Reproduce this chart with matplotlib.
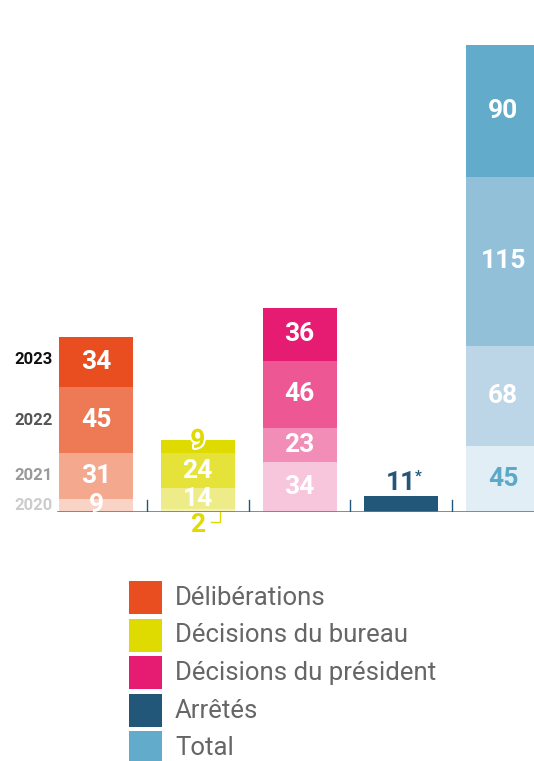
import matplotlib
matplotlib.use("Agg")
import matplotlib.pyplot as plt
from matplotlib.patches import Rectangle
import matplotlib.patheffects as pe

# data
categories = ["Délibérations", "Décisions du bureau", "Décisions du président", "Arrêtés", "Total"]
years = ["2020", "2021", "2022", "2023"]
deliberations = [9, 31, 45, 34]
bureau = [2, 14, 24, 9]
president = [34, 23, 46, 36]
arretes = [0, 0, 0, 11]
total = [45, 68, 115, 90]

series = [deliberations, bureau, president, arretes, total]

# colours per category, one shade per year (2020 -> 2023)
shades = [
    ["#f9d3c6", "#f4a98f", "#ee7a55", "#e84e1f"],
    ["#f3f2b8", "#eeec88", "#e5e33a", "#dfdb00"],
    ["#f7c6dc", "#f18db6", "#ec5794", "#e61c72"],
    ["#23577a", "#23577a", "#23577a", "#23577a"],
    ["#e2eef5", "#bcd5e7", "#91c0d8", "#62abcb"],
]
legend_colors = ["#e84e1f", "#dfdb00", "#e61c72", "#23577a", "#62abcb"]
year_colors = ["#cccccc", "#999999", "#555555", "#111111"]

W, H = 534, 761
fig = plt.figure(figsize=(W / 100, H / 100), dpi=100)
ax = fig.add_axes([0, (H - 512) / H, 1, 512 / H])

px_per_unit = 1.47
step = 101.75
ax.set_xlim(-96 / step, (W - 96) / step)
ax.set_ylim(0, 512 / px_per_unit)
ax.axis("off")

num_font = dict(family="Roboto", fontweight="bold", fontsize=19)
bw = 74 / step

for i, vals in enumerate(series):
    bottom = 0
    for j, v in enumerate(vals):
        if v == 0:
            continue
        ax.bar(i, v, bottom=bottom, width=bw, color=shades[i][j], linewidth=0)
        cy = bottom + v / 2
        if i == 3:
            pass
        elif i == 1 and j == 0:
            ax.text(i, -9, str(v), ha="center", va="center", color="#dfdb00", **num_font)
            ax.plot([1.13, 1.219, 1.219], [-6.8, -6.8, 0], color="#dfdb00", lw=1, clip_on=False)
        elif i == 1 and j == 3:
            ax.text(i, cy + 4, str(v), ha="center", va="center", color="#dfdb00",
                    path_effects=[pe.withStroke(linewidth=3, foreground="white")], **num_font)
        elif i == 4 and j == 0:
            ax.text(i, cy, str(v), ha="center", va="center", color="#5ba8c9", **num_font)
        else:
            ax.text(i, cy, str(v), ha="center", va="center", color="white", **num_font)
        bottom += v

# Arrêtés label above its bar
arr_top = sum(arretes)
ax.text(3, arr_top + 9, "11", ha="center", va="center", color="#23577a", **num_font)
ax.annotate("*", xy=(3, arr_top + 9), xytext=(10, 4), textcoords="offset points",
            ha="left", va="center", color="#23577a", fontsize=11, family="Roboto",
            fontweight="bold")

# year labels next to first bar
cum = 0
for j, y in enumerate(years):
    v = deliberations[j]
    cy = cum + v / 2
    if j == 3:
        cy += 2
    ax.text(-43 / step, cy, y, ha="right", va="center", color=year_colors[j],
            family="Roboto", fontweight="bold", fontsize=12)
    cum += v

# baseline and separators
ax.axhline(0, xmin=58 / W, xmax=1, color="#777777", lw=1.2)
for k in range(4):
    ax.plot([k + 0.5, k + 0.5], [0, 8], color="#23577a", lw=1)

# legend
for k, (name, col) in enumerate(zip(categories, legend_colors)):
    top = 581 + k * 37.5
    fig.patches.append(Rectangle((129 / W, 1 - (top + 33) / H), 33 / W, 33 / H,
                                 transform=fig.transFigure, facecolor=col, edgecolor="none"))
    fig.text(175 / W, 1 - (top + 17) / H, name, ha="left", va="center",
             color="#666666", family="Roboto", fontsize=18.5)

fig.savefig("out.png", dpi=100)
